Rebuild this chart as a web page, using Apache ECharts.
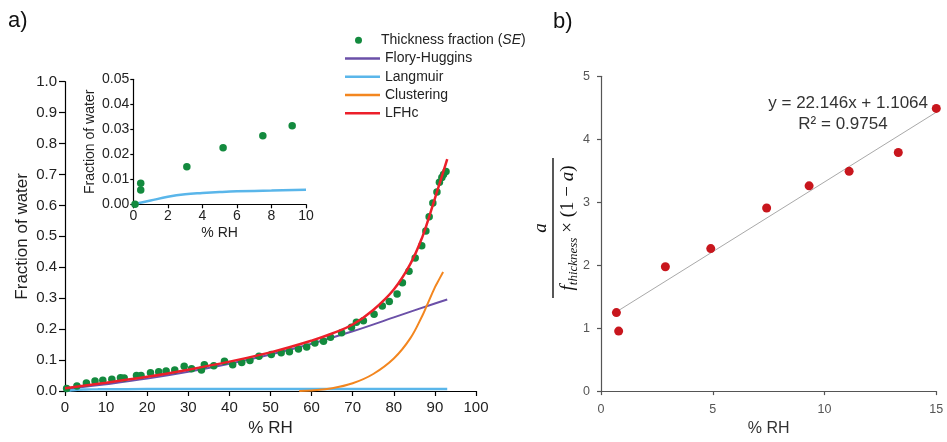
<!DOCTYPE html>
<html>
<head>
<meta charset="utf-8">
<script src="https://cdn.jsdelivr.net/npm/echarts@6/dist/echarts.min.js"></script>
<style>
  html, body { margin: 0; padding: 0; background: #fff; }
  #chart { width: 947px; height: 442px; }
</style>
</head>
<body>
<div id="chart"></div>
<script>
// ---- panel a): water uptake vs relative humidity ----
const thicknessFraction = [
  [0.4, 0.008], [2.9, 0.016], [5.2, 0.026], [7.3, 0.032], [9.2, 0.035],
  [11.4, 0.038], [13.5, 0.043], [14.4, 0.042], [17.4, 0.050], [18.5, 0.050],
  [20.8, 0.059], [22.8, 0.062], [24.6, 0.065], [26.7, 0.068], [29.0, 0.080],
  [30.8, 0.072], [33.2, 0.068], [33.9, 0.085], [36.2, 0.082], [38.8, 0.096],
  [40.8, 0.085], [43.0, 0.092], [45.0, 0.099], [47.2, 0.112], [50.2, 0.118],
  [52.6, 0.124], [54.6, 0.127], [56.8, 0.136], [58.8, 0.142], [60.8, 0.155],
  [62.9, 0.161], [64.6, 0.174], [67.3, 0.188], [69.7, 0.206], [70.9, 0.222],
  [72.6, 0.227], [75.2, 0.248], [77.2, 0.275], [78.9, 0.289], [80.8, 0.314],
  [82.1, 0.350], [83.7, 0.387], [85.2, 0.430], [86.8, 0.470], [87.8, 0.517],
  [88.6, 0.563], [89.5, 0.608], [90.5, 0.643], [91.1, 0.675], [91.7, 0.690],
  [92.1, 0.700], [92.7, 0.710]
];
const floryHuggins = [
  [0, 0.006], [10, 0.022], [20, 0.040], [30, 0.062], [40, 0.088], [50, 0.118],
  [60, 0.153], [70, 0.193], [80, 0.238], [90, 0.283], [93, 0.296]
];
const langmuir = [
  [0, 0], [1, 0.0015], [3, 0.004], [5, 0.0049], [8, 0.0055], [10, 0.0058],
  [20, 0.0062], [40, 0.0065], [60, 0.0066], [80, 0.0067], [93, 0.0068]
];
const clustering = [
  [57, 0], [60, 0.002], [65, 0.009], [70, 0.025], [75, 0.055], [80, 0.105],
  [84, 0.170], [87, 0.245], [88, 0.275], [90, 0.335], [91, 0.360], [92, 0.385]
];
const lfhc = [
  [0, 0.009], [10, 0.027], [20, 0.046], [30, 0.069], [40, 0.095], [50, 0.125],
  [60, 0.163], [65, 0.186], [70, 0.215], [75, 0.262], [80, 0.328], [84, 0.410],
  [87, 0.500], [89, 0.580], [91, 0.665], [93, 0.750]
];

// low-humidity close-up
const insetThickness = [
  [0.1, 0.0], [0.43, 0.0084], [0.43, 0.0057], [3.1, 0.015], [5.2, 0.0226],
  [7.5, 0.0274], [9.2, 0.0314]
];
const insetLangmuir = [
  [0, 0], [1, 0.0015], [2, 0.003], [3, 0.004], [4, 0.0045], [5, 0.0049],
  [6, 0.0052], [8, 0.0055], [10, 0.0058]
];

// ---- panel b): linearised plot ----
const linearPoints = [
  [0.69, 1.247], [0.79, 0.953], [2.88, 1.975], [4.91, 2.264], [7.41, 2.909],
  [9.31, 3.26], [11.1, 3.49], [13.3, 3.79], [15.0, 4.49]
];
const trendLine = [[0.65, 1.25], [15.0, 4.43]];
const fitEquation = 'y = 22.146x + 1.1064';
const fitR2 = 'R² = 0.9754';

const C = {
  green: '#138a3e',
  purple: '#6b50a8',
  blue: '#5ab6ea',
  orange: '#f3861f',
  red: '#ec1f2a',
  dotRed: '#c8161d',
  trend: '#a9a9a9'
};
const FONT = '"Liberation Sans", Arial, sans-serif';
const SERIF = '"Liberation Serif", "DejaVu Serif", serif';

const chart = echarts.init(document.getElementById('chart'), null, { renderer: 'canvas' });

function blackAxis(extra) {
  return Object.assign({
    axisLine: { lineStyle: { color: '#000', width: 1.2 } },
    axisTick: { show: true, inside: false, length: 5, lineStyle: { color: '#000', width: 1.2 } },
    splitLine: { show: false },
    axisLabel: { color: '#222', fontFamily: FONT, fontSize: 15 }
  }, extra);
}

const legendText = {
  fontFamily: FONT, fontSize: 14, color: '#222', lineHeight: 18.3,
  rich: { i: { fontStyle: 'italic', fontFamily: FONT, fontSize: 14, color: '#222', lineHeight: 18.3 } }
};

const option = {
  animation: false,
  backgroundColor: '#fff',
  textStyle: { fontFamily: FONT },
  grid: [
    { left: 65, top: 81.7, width: 411, height: 312.6 },
    { left: 133.3, top: 79.3, width: 172.7, height: 125 },
    { left: 601, top: 76.3, width: 335.3, height: 318 }
  ],
  legend: [
    {
      left: 350, top: 26, orient: 'vertical',
      itemWidth: 35, itemHeight: 7, itemGap: 0, icon: 'circle',
      data: ['Thickness fraction (SE)'],
      formatter: () => 'Thickness fraction ({i|SE})',
      textStyle: legendText
    },
    {
      left: 340, top: 44.3, orient: 'vertical',
      itemWidth: 35, itemHeight: 2.5, itemGap: 0, icon: 'rect',
      data: ['Flory-Huggins', 'Langmuir', 'Clustering', 'LFHc'],
      textStyle: legendText
    }
  ],
  xAxis: [
    blackAxis({
      gridIndex: 0, type: 'value', min: 0, max: 100, interval: 10,
      name: '% RH', nameLocation: 'middle', nameGap: 29,
      nameTextStyle: { fontFamily: FONT, fontSize: 17, color: '#222' },
      axisLabel: { color: '#222', fontFamily: FONT, fontSize: 15, margin: 9 }
    }),
    blackAxis({
      gridIndex: 1, type: 'value', min: 0, max: 10, interval: 2,
      name: '% RH', nameLocation: 'middle', nameGap: 22,
      nameTextStyle: { fontFamily: FONT, fontSize: 14, color: '#222' },
      axisTick: { show: true, length: 4, lineStyle: { color: '#000', width: 1.2 } },
      axisLabel: { color: '#222', fontFamily: FONT, fontSize: 14, margin: 5 }
    }),
    {
      gridIndex: 2, type: 'value', min: 0, max: 15, interval: 5,
      name: '% RH', nameLocation: 'middle', nameGap: 22,
      nameTextStyle: { fontFamily: FONT, fontSize: 16, color: '#333' },
      axisLine: { lineStyle: { color: '#555', width: 1.2 } },
      axisTick: { show: true, length: 4, lineStyle: { color: '#555', width: 1.2 } },
      splitLine: { show: false },
      axisLabel: { color: '#555', fontFamily: FONT, fontSize: 12.5, margin: 12 }
    }
  ],
  yAxis: [
    blackAxis({
      gridIndex: 0, type: 'value', min: 0, max: 1, interval: 0.1,
      name: 'Fraction of water', nameLocation: 'middle', nameGap: 34, nameRotate: 90,
      nameTextStyle: { fontFamily: FONT, fontSize: 17, color: '#222' },
      axisTick: { show: true, length: 6, lineStyle: { color: '#000', width: 1.2 } },
      axisLabel: { color: '#222', fontFamily: FONT, fontSize: 15, margin: 8, formatter: v => v.toFixed(1) }
    }),
    blackAxis({
      gridIndex: 1, type: 'value', min: 0, max: 0.05, interval: 0.01,
      name: 'Fraction of water', nameLocation: 'middle', nameGap: 36, nameRotate: 90,
      nameTextStyle: { fontFamily: FONT, fontSize: 14, color: '#222' },
      axisTick: { show: true, length: 3, lineStyle: { color: '#000', width: 1.2 } },
      axisLabel: { color: '#222', fontFamily: FONT, fontSize: 14, margin: 4, formatter: v => v.toFixed(2) }
    }),
    {
      gridIndex: 2, type: 'value', min: 0, max: 5, interval: 1,
      axisLine: { show: true, lineStyle: { color: '#555', width: 1.2 } },
      axisTick: { show: true, length: 4, lineStyle: { color: '#555', width: 1.2 } },
      splitLine: { show: false },
      axisLabel: { color: '#555', fontFamily: FONT, fontSize: 12.5, margin: 11 }
    }
  ],
  series: [
    { name: 'Flory-Huggins', type: 'line', xAxisIndex: 0, yAxisIndex: 0, data: floryHuggins,
      smooth: 0.4, symbol: 'none', lineStyle: { color: C.purple, width: 2 }, itemStyle: { color: C.purple }, z: 2 },
    { name: 'Langmuir', type: 'line', xAxisIndex: 0, yAxisIndex: 0, data: langmuir,
      smooth: 0.4, symbol: 'none', lineStyle: { color: C.blue, width: 2.5 }, itemStyle: { color: C.blue }, z: 2 },
    { name: 'Clustering', type: 'line', xAxisIndex: 0, yAxisIndex: 0, data: clustering,
      smooth: 0.4, symbol: 'none', lineStyle: { color: C.orange, width: 2 }, itemStyle: { color: C.orange }, z: 2 },
    { name: 'Thickness fraction (SE)', type: 'scatter', xAxisIndex: 0, yAxisIndex: 0, data: thicknessFraction,
      symbol: 'circle', symbolSize: 7.5, itemStyle: { color: C.green, opacity: 1 }, z: 3 },
    { name: 'LFHc', type: 'line', xAxisIndex: 0, yAxisIndex: 0, data: lfhc,
      smooth: 0.4, symbol: 'none', lineStyle: { color: C.red, width: 2.5 }, itemStyle: { color: C.red }, z: 4 },

    { name: 'inset-langmuir', type: 'line', xAxisIndex: 1, yAxisIndex: 1, data: insetLangmuir,
      smooth: 0.4, symbol: 'none', lineStyle: { color: C.blue, width: 2.5 }, z: 2 },
    { name: 'inset-thickness', type: 'scatter', xAxisIndex: 1, yAxisIndex: 1, data: insetThickness,
      symbol: 'circle', symbolSize: 7.5, itemStyle: { color: C.green, opacity: 1 }, z: 3 },

    { name: 'linear-trend', type: 'line', xAxisIndex: 2, yAxisIndex: 2, data: trendLine,
      symbol: 'none', lineStyle: { color: C.trend, width: 1 }, z: 2 },
    { name: 'linear-points', type: 'scatter', xAxisIndex: 2, yAxisIndex: 2, data: linearPoints,
      symbol: 'circle', symbolSize: 9, itemStyle: { color: C.dotRed, opacity: 1 }, z: 3 }
  ],
  graphic: [
    { type: 'text', left: 8, top: 10, style: { text: 'a)', font: '22px ' + FONT, fill: '#111' } },
    { type: 'text', left: 553, top: 11, style: { text: 'b)', font: '22px ' + FONT, fill: '#111' } },
    { type: 'text', x: 928, y: 103, style: { text: fitEquation, font: '17px ' + FONT, fill: '#333',
      align: 'right', verticalAlign: 'middle' } },
    { type: 'text', x: 843, y: 124, style: { text: fitR2, font: '17px ' + FONT, fill: '#333',
      align: 'center', verticalAlign: 'middle' } },
    {
      type: 'group', x: 553, y: 228, rotation: Math.PI / 2,
      children: [
        { type: 'text', style: { text: 'a', x: 0, y: -3, align: 'center', verticalAlign: 'bottom',
          font: 'italic 19px ' + SERIF, fill: '#111' } },
        { type: 'line', shape: { x1: -70, y1: 0, x2: 70, y2: 0 }, style: { stroke: '#111', lineWidth: 1.4 } },
        { type: 'text', style: {
          text: '{f|f}{s|thickness}{m| × (1 − }{a|a}{m|)}', x: 0, y: 3, align: 'center', verticalAlign: 'top',
          rich: {
            f: { font: 'italic 19px ' + SERIF, fill: '#111', lineHeight: 24, verticalAlign: 'middle' },
            s: { font: 'italic 13px ' + SERIF, fill: '#111', lineHeight: 24, verticalAlign: 'bottom' },
            m: { font: '19px ' + SERIF, fill: '#111', lineHeight: 24, verticalAlign: 'middle' },
            a: { font: 'italic 19px ' + SERIF, fill: '#111', lineHeight: 24, verticalAlign: 'middle' }
          }
        } }
      ]
    }
  ]
};

chart.setOption(option);
</script>
</body>
</html>
